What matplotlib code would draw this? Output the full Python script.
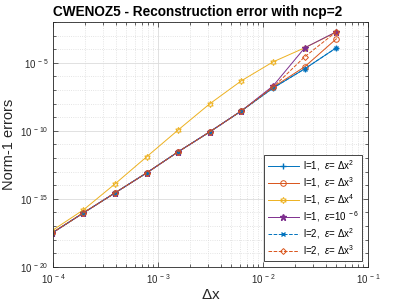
import numpy as np
import matplotlib
matplotlib.use("Agg")
import matplotlib.pyplot as plt

plt.rcParams['font.family'] = ['Liberation Sans', 'DejaVu Sans']
plt.rcParams['mathtext.fontset'] = 'custom'
plt.rcParams['mathtext.rm'] = 'Liberation Sans'
plt.rcParams['mathtext.it'] = 'Liberation Sans:italic'

# grid spacing (largest to smallest)
dx = [5.0e-2, 2.5e-2, 1.25e-2, 6.25e-3, 3.125e-3, 1.5625e-3,
      7.8125e-4, 3.90625e-4, 1.953125e-4, 9.765625e-5]

# norm-1 errors
err_l1_dx2 = [1.26e-4, 3.6e-6, 1.4e-7, 2.95e-9, 8.5e-11, 2.9e-12,
              8.1e-14, 2.75e-15, 9.3e-17, 3.0e-18]
err_l1_dx3 = [5.75e-4, 5.1e-6, 1.6e-7, 2.95e-9, 8.5e-11, 2.9e-12,
              8.1e-14, 2.75e-15, 9.3e-17, 3.0e-18]
err_l1_dx4 = [1.78e-3, 1.26e-4, 1.17e-5, 4.8e-7, 9.8e-9, 1.17e-10,
              1.23e-12, 1.26e-14, 1.55e-16, 4.5e-18]
err_l1_e6 = [1.9e-3, 1.26e-4, 2.0e-7, 2.95e-9, 8.5e-11, 2.9e-12,
             8.1e-14, 2.75e-15, 9.3e-17, 3.0e-18]
err_l2_dx2 = [1.26e-4, 3.6e-6, 1.4e-7, 2.95e-9, 8.5e-11, 2.9e-12,
              8.1e-14, 2.75e-15, 9.3e-17, 3.0e-18]
err_l2_dx3 = [1.9e-3, 2.75e-5, 1.6e-7, 2.95e-9, 8.5e-11, 2.9e-12,
              8.1e-14, 2.75e-15, 9.3e-17, 3.0e-18]

labels = [r'l=1,  $\epsilon$= $\Delta$x$^2$',
          r'l=1,  $\epsilon$= $\Delta$x$^3$',
          r'l=1,  $\epsilon$= $\Delta$x$^4$',
          r'l=1,  $\epsilon$=10$^{\ -6}$',
          r'l=2,  $\epsilon$= $\Delta$x$^2$',
          r'l=2,  $\epsilon$= $\Delta$x$^3$']

blue = (0, 0.447, 0.741)
orange = (0.85, 0.325, 0.098)
yellow = (0.929, 0.694, 0.125)
purple = (0.494, 0.184, 0.556)

fig = plt.figure(figsize=(4.07, 3.05), dpi=100)
ax = fig.add_axes([0.130, 0.125, 0.774, 0.803])

lw = 0.7
ax.plot(dx, err_l1_dx2, '-', marker='+', color=blue, lw=lw, ms=4.5, label=labels[0])
ax.plot(dx, err_l1_dx3, '-', marker='o', color=orange, lw=lw, ms=4, mfc='none', mew=0.7, label=labels[1])
ax.plot(dx, err_l1_dx4, '-', marker=(6, 1, 0), color=yellow, lw=lw, ms=4.5, mfc='none', mew=0.7, label=labels[2])
ax.plot(dx, err_l1_e6, '-', marker='*', color=purple, lw=lw, ms=4.5, label=labels[3])
ax.plot(dx, err_l2_dx2, '--', marker='x', color=blue, lw=lw, ms=3.5, label=labels[4])
ax.plot(dx, err_l2_dx3, '--', marker='D', color=orange, lw=lw, ms=3, mfc='none', mew=0.7, label=labels[5])

ax.set_xscale('log')
ax.set_yscale('log')
ax.set_xlim(1e-4, 1e-1)
ax.set_ylim(1e-20, 1e-2)

xt = [1e-4, 1e-3, 1e-2, 1e-1]
yt = [1e-20, 1e-15, 1e-10, 1e-5]
ax.set_xticks(xt)
ax.set_xticklabels([r'10$^{\ -%d}$' % e for e in (4, 3, 2, 1)])
ax.set_yticks(yt)
ax.set_yticklabels([r'10$^{\ -%d}$' % e for e in (20, 15, 10, 5)])
ax.set_yticks([10.0 ** k for k in range(-20, -1)], minor=True)
ax.set_xticks([m * 10.0 ** k for k in (-4, -3, -2) for m in range(2, 10)], minor=True)
ax.yaxis.set_minor_formatter(matplotlib.ticker.NullFormatter())
ax.xaxis.set_minor_formatter(matplotlib.ticker.NullFormatter())

ax.tick_params(which='both', direction='in', top=True, right=True,
               labelsize=7, colors='#262626', width=0.5)
ax.tick_params(which='major', length=3.5)
ax.tick_params(which='minor', length=2)
ax.tick_params(axis='x', pad=4)
ax.tick_params(axis='y', pad=3)
ax.grid(True, which='major', color='#dcdcdc', lw=0.6)
ax.grid(True, which='minor', color='#dcdcdc', lw=0.6, ls=':')
ax.set_axisbelow(True)
for s in ax.spines.values():
    s.set_color('#262626')
    s.set_linewidth(0.6)

ax.set_xlabel(r'$\Delta$x', fontsize=11, color='#262626', labelpad=1)
ax.set_ylabel('Norm-1 errors', fontsize=10.5, color='#262626', labelpad=3)
ax.set_title('CWENOZ5 - Reconstruction error with ncp=2', fontsize=9.8,
             fontweight='bold', pad=4, loc='left')

leg = ax.legend(loc='lower right', fontsize=7, handlelength=3.2, fancybox=False,
                framealpha=1, edgecolor='#262626', borderaxespad=0.6,
                labelspacing=0.22, handletextpad=0.4, borderpad=0.35)
leg.get_frame().set_linewidth(0.6)

fig.savefig('out.png', dpi=100)
